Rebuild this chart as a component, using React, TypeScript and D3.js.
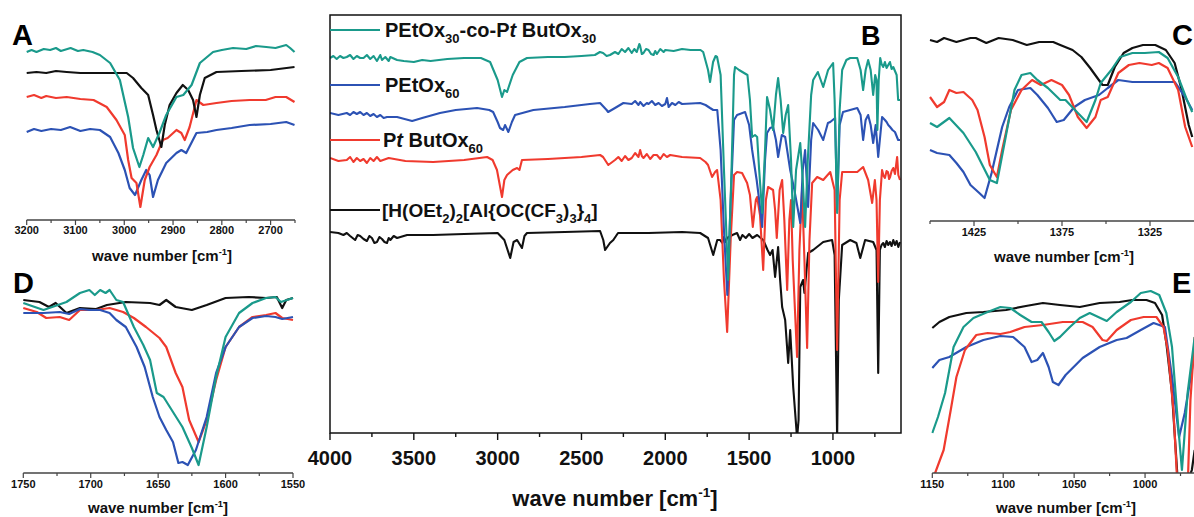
import React from "react";
import * as d3 from "d3";

type Pt = [number, number];

const FONT = "'Liberation Sans', Arial, Helvetica, sans-serif";
const TEAL = "#1a9a8b";
const BLUE = "#2c52b4";
const RED = "#f03a2e";
const BLACK = "#111111";

// ---------- Panel B (full spectra, 4000-600 cm-1) ----------
const bTicksMajor = [4000, 3500, 3000, 2500, 2000, 1500, 1000];
const bTicksMinor = [3750, 3250, 2750, 2250, 1750, 1250, 750];

const bTeal: Pt[] = [
  [4000, 375], [3980, 377], [3960, 374], [3940, 377], [3920, 375], [3900, 376], [3880, 378], [3860, 374], [3840, 377], [3820, 375], [3800, 375], [3780, 378], [3760, 374], [3740, 377], [3720, 372], [3700, 378], [3690, 373], [3670, 376], [3650, 372], [3640, 376], [3600, 373], [3560, 372], [3500, 371], [3450, 373], [3400, 372], [3300, 374], [3200, 375], [3100, 375], [3045, 371], [3000, 353], [2974, 336], [2960, 343], [2944, 341], [2910, 358], [2870, 371], [2825, 375], [2700, 376], [2600, 376], [2500, 377], [2420, 378], [2390, 381], [2371, 380], [2350, 377], [2330, 378], [2300, 381], [2280, 379], [2260, 384], [2240, 381], [2220, 385], [2200, 380], [2185, 384], [2170, 381], [2155, 389], [2150, 387], [2140, 379], [2130, 380], [2115, 384], [2100, 383], [2085, 379], [2070, 378], [2060, 382], [2050, 379], [2030, 384], [2010, 381], [2000, 383], [1950, 382], [1900, 384], [1850, 383], [1790, 383], [1774, 381], [1745, 363], [1733, 351], [1715, 371], [1700, 377], [1691, 376], [1670, 358], [1650, 263], [1625, 153], [1605, 263], [1590, 358], [1584, 366], [1560, 363], [1510, 358], [1495, 333], [1482, 296], [1465, 298], [1452, 296], [1440, 263], [1422, 220], [1405, 283], [1393, 336], [1375, 323], [1357, 303], [1340, 338], [1327, 355], [1312, 333], [1297, 300], [1282, 318], [1267, 328], [1250, 273], [1237, 206], [1220, 263], [1195, 290], [1180, 253], [1166, 206], [1150, 273], [1130, 338], [1118, 353], [1090, 361], [1058, 346], [1029, 363], [999, 370], [990, 333], [975, 220], [960, 323], [945, 363], [920, 373], [897, 375], [855, 375], [835, 363], [820, 343], [805, 363], [790, 373], [775, 363], [760, 338], [748, 358], [740, 353], [735, 303], [727, 353], [718, 375], [710, 369], [700, 366], [690, 371], [680, 365], [670, 368], [660, 371], [650, 364], [640, 366], [630, 362], [620, 358], [611, 333], [600, 333],
];

const bBlue: Pt[] = [
  [4000, 320], [3950, 318], [3900, 320], [3880, 318], [3860, 321], [3840, 319], [3820, 321], [3800, 318], [3780, 320], [3760, 317], [3740, 319], [3720, 316], [3700, 318], [3680, 315], [3660, 316], [3600, 316], [3510, 312], [3450, 315], [3344, 320], [3250, 323], [3123, 325], [3050, 323], [3027, 321], [3000, 311], [2986, 305], [2967, 303], [2956, 308], [2936, 301], [2915, 311], [2896, 318], [2787, 323], [2600, 326], [2450, 329], [2389, 330], [2350, 323], [2341, 321], [2300, 325], [2250, 330], [2200, 329], [2180, 332], [2160, 328], [2150, 331], [2130, 327], [2110, 330], [2100, 329], [2080, 332], [2060, 328], [2040, 330], [2020, 327], [2000, 329], [1990, 335], [1980, 326], [1960, 330], [1940, 328], [1920, 331], [1900, 329], [1792, 330], [1760, 328], [1733, 325], [1714, 323], [1690, 323], [1670, 283], [1650, 203], [1630, 138], [1610, 233], [1590, 313], [1572, 318], [1524, 321], [1500, 308], [1482, 283], [1455, 253], [1440, 233], [1422, 206], [1405, 273], [1393, 300], [1375, 305], [1357, 306], [1340, 293], [1327, 276], [1305, 298], [1285, 296], [1255, 263], [1230, 243], [1214, 228], [1195, 210], [1180, 263], [1166, 283], [1148, 226], [1130, 293], [1118, 310], [1088, 303], [1058, 293], [1030, 310], [1016, 311], [987, 315], [975, 223], [960, 308], [940, 321], [855, 325], [835, 318], [820, 293], [805, 313], [790, 318], [775, 308], [760, 290], [745, 308], [730, 276], [707, 316], [690, 313], [680, 311], [670, 308], [659, 306], [645, 303], [630, 301], [611, 293], [600, 293],
];

const bRed: Pt[] = [
  [4000, 275], [3950, 272], [3900, 273], [3880, 276], [3860, 271], [3840, 275], [3820, 272], [3800, 274], [3780, 270], [3760, 275], [3740, 272], [3720, 276], [3700, 272], [3650, 275], [3550, 272], [3385, 271], [3200, 273], [3063, 276], [3030, 273], [3004, 263], [2974, 236], [2960, 253], [2944, 258], [2910, 263], [2884, 265], [2870, 263], [2855, 273], [2700, 274], [2500, 276], [2389, 278], [2371, 276], [2340, 268], [2300, 273], [2280, 276], [2260, 272], [2240, 277], [2220, 273], [2200, 275], [2180, 280], [2160, 276], [2150, 283], [2140, 277], [2130, 275], [2110, 279], [2090, 274], [2070, 278], [2050, 278], [2030, 274], [2010, 279], [1990, 276], [1971, 278], [1900, 276], [1792, 275], [1760, 271], [1745, 268], [1721, 256], [1703, 261], [1691, 263], [1670, 233], [1650, 153], [1631, 101], [1610, 193], [1590, 258], [1572, 261], [1542, 260], [1512, 250], [1495, 238], [1478, 206], [1460, 233], [1452, 236], [1435, 218], [1416, 163], [1400, 233], [1387, 246], [1357, 243], [1345, 223], [1335, 195], [1318, 243], [1303, 253], [1290, 213], [1273, 143], [1260, 213], [1250, 233], [1240, 173], [1214, 76], [1200, 183], [1184, 243], [1170, 173], [1154, 85], [1140, 193], [1124, 250], [1094, 256], [1058, 253], [1016, 261], [990, 243], [975, 83], [960, 233], [945, 261], [897, 261], [855, 261], [820, 266], [790, 253], [766, 230], [750, 253], [740, 233], [730, 151], [720, 233], [707, 263], [698, 257], [690, 255], [680, 262], [672, 261], [665, 254], [659, 256], [650, 262], [640, 265], [630, 259], [617, 276], [610, 258], [600, 253],
];

const bBlack: Pt[] = [
  [4000, 201], [3950, 200], [3920, 198], [3900, 200], [3880, 197], [3865, 195], [3850, 193], [3835, 198], [3820, 197], [3800, 194], [3780, 192], [3765, 197], [3750, 195], [3735, 190], [3720, 191], [3705, 196], [3690, 194], [3675, 191], [3660, 190], [3650, 195], [3640, 193], [3620, 197], [3600, 195], [3540, 198], [3385, 198], [3200, 199], [3000, 200], [2960, 193], [2925, 175], [2905, 191], [2884, 193], [2855, 185], [2840, 197], [2825, 200], [2600, 201], [2389, 202], [2370, 193], [2359, 183], [2330, 190], [2310, 193], [2282, 200], [2100, 200], [1900, 201], [1792, 200], [1745, 195], [1714, 178], [1690, 193], [1673, 193], [1660, 190], [1650, 196], [1640, 191], [1631, 195], [1600, 198], [1572, 200], [1554, 193], [1540, 198], [1520, 195], [1500, 199], [1480, 195], [1452, 198], [1416, 193], [1390, 183], [1375, 178], [1360, 183], [1345, 156], [1327, 186], [1315, 153], [1303, 126], [1285, 113], [1267, 70], [1255, 103], [1237, 46], [1214, -5], [1205, 13], [1195, 146], [1178, 153], [1170, 140], [1148, 180], [1118, 183], [1058, 191], [1005, 193], [990, 178], [975, -5], [965, 133], [945, 188], [897, 193], [860, 190], [837, 175], [808, 193], [760, 191], [740, 183], [730, 60], [720, 183], [710, 188], [700, 190], [690, 186], [680, 192], [670, 188], [660, 191], [650, 187], [640, 193], [630, 188], [620, 192], [610, 186], [600, 191],
];

// ---------- Panel A (3200-2650) ----------
const aTicksMajor = [3200, 3100, 3000, 2900, 2800, 2700];
const aTicksMinor = [3150, 3050, 2950, 2850, 2750, 2650];
const aTeal: Pt[] = [[3200, 168], [3190, 170], [3180, 168], [3165, 171], [3152, 170], [3140, 172], [3130, 169], [3110, 172], [3095, 169], [3084, 170], [3065, 168], [3050, 165], [3029, 157], [3009, 140], [2992, 103], [2982, 72], [2969, 53], [2961, 65], [2951, 82], [2941, 73], [2928, 87], [2914, 105], [2893, 123], [2879, 125], [2862, 135], [2845, 157], [2818, 168], [2800, 170], [2777, 172], [2750, 171], [2730, 174], [2709, 173], [2690, 172], [2668, 175], [2660, 172], [2651, 168]];
const aBlack: Pt[] = [[3200, 147], [3180, 148], [3160, 147], [3140, 149], [3118, 148], [3090, 147], [3060, 147], [2995, 147], [2982, 142], [2965, 132], [2951, 125], [2941, 105], [2934, 90], [2924, 73], [2917, 95], [2907, 115], [2893, 127], [2880, 135], [2869, 130], [2859, 120], [2852, 103], [2845, 125], [2835, 142], [2811, 148], [2760, 149], [2700, 150], [2651, 153]];
const aRed: Pt[] = [[3200, 123], [3185, 125], [3170, 122], [3160, 124], [3140, 122], [3118, 123], [3090, 121], [3063, 120], [3036, 113], [3016, 100], [2999, 85], [2992, 60], [2985, 42], [2975, 37], [2967, 13], [2958, 40], [2948, 53], [2934, 65], [2921, 80], [2911, 82], [2893, 90], [2883, 87], [2876, 80], [2866, 93], [2852, 120], [2838, 115], [2811, 117], [2780, 119], [2743, 120], [2710, 120], [2690, 123], [2668, 123], [2651, 118]];
const aBlue: Pt[] = [[3200, 88], [3185, 91], [3170, 89], [3150, 91], [3130, 90], [3111, 93], [3090, 89], [3070, 91], [3050, 90], [3029, 83], [3012, 67], [2999, 50], [2989, 32], [2978, 25], [2965, 40], [2955, 50], [2948, 45], [2941, 23], [2931, 40], [2914, 57], [2893, 67], [2883, 70], [2873, 67], [2852, 87], [2830, 88], [2811, 90], [2780, 92], [2743, 95], [2700, 96], [2668, 98], [2651, 95]];

// ---------- Panel D (1750-1550) ----------
const dTicksMajor = [1750, 1700, 1650, 1600, 1550];
const dTicksMinor = [1725, 1675, 1625, 1575];
const dTeal: Pt[] = [[1750, 170], [1735, 163], [1718, 171], [1708, 180], [1701, 183], [1697, 178], [1693, 183], [1689, 180], [1686, 183], [1681, 173], [1676, 171], [1668, 146], [1661, 128], [1656, 113], [1651, 80], [1646, 76], [1639, 61], [1632, 46], [1625, 25], [1620, 8], [1614, 46], [1607, 96], [1600, 136], [1590, 160], [1580, 170], [1570, 175], [1563, 176], [1559, 171], [1550, 175]];
const dBlack: Pt[] = [[1750, 173], [1738, 171], [1731, 166], [1726, 170], [1718, 160], [1708, 165], [1696, 164], [1688, 168], [1674, 171], [1656, 170], [1649, 168], [1644, 173], [1637, 166], [1625, 163], [1614, 168], [1600, 175], [1583, 176], [1570, 175], [1562, 176], [1558, 165], [1555, 173], [1550, 175]];
const dRed: Pt[] = [[1750, 165], [1740, 161], [1733, 155], [1723, 156], [1716, 153], [1708, 163], [1696, 163], [1686, 165], [1676, 161], [1668, 155], [1659, 146], [1649, 135], [1644, 126], [1637, 100], [1632, 86], [1627, 53], [1620, 31], [1614, 53], [1607, 93], [1600, 126], [1590, 146], [1580, 156], [1570, 158], [1563, 160], [1558, 155], [1550, 153]];
const dBlue: Pt[] = [[1750, 160], [1735, 160], [1723, 161], [1716, 159], [1708, 164], [1701, 163], [1693, 163], [1686, 160], [1681, 153], [1674, 146], [1666, 126], [1660, 106], [1654, 76], [1649, 56], [1644, 43], [1639, 31], [1635, 10], [1632, 11], [1628, 8], [1622, 23], [1614, 56], [1607, 100], [1600, 126], [1590, 146], [1580, 155], [1570, 157], [1563, 156], [1558, 154], [1550, 156]];

// ---------- Panel C (1450-1300) ----------
const cTicksMajor = [1425, 1375, 1325];
const cTicksMinor = [1450, 1400, 1350];
const cBlack: Pt[] = [[1450, 181], [1446, 179], [1442, 183], [1435, 179], [1427, 183], [1424, 183], [1418, 178], [1411, 183], [1403, 181], [1395, 176], [1388, 179], [1380, 179], [1376, 176], [1369, 171], [1364, 164], [1359, 153], [1352, 136], [1349, 136], [1345, 154], [1340, 168], [1335, 173], [1329, 176], [1322, 176], [1316, 171], [1311, 158], [1307, 131], [1303, 96], [1301, 84]];
const cTeal: Pt[] = [[1450, 98], [1446, 94], [1439, 103], [1431, 88], [1424, 69], [1416, 41], [1412, 38], [1407, 84], [1402, 131], [1398, 146], [1393, 148], [1389, 141], [1383, 133], [1376, 121], [1373, 121], [1366, 108], [1361, 99], [1356, 121], [1353, 138], [1347, 151], [1342, 164], [1335, 168], [1328, 168], [1320, 169], [1315, 163], [1309, 144], [1304, 121], [1301, 109]];
const cRed: Pt[] = [[1450, 124], [1446, 114], [1442, 119], [1439, 131], [1435, 128], [1431, 129], [1426, 121], [1423, 111], [1419, 84], [1416, 56], [1412, 44], [1409, 71], [1404, 111], [1398, 131], [1392, 141], [1387, 136], [1381, 141], [1375, 136], [1371, 126], [1366, 104], [1361, 93], [1356, 104], [1353, 121], [1349, 124], [1343, 148], [1337, 156], [1331, 158], [1324, 156], [1320, 158], [1315, 153], [1309, 131], [1305, 94], [1301, 74]];
const cBlue: Pt[] = [[1450, 71], [1446, 68], [1439, 66], [1435, 58], [1431, 49], [1427, 36], [1422, 28], [1419, 23], [1415, 48], [1409, 94], [1405, 114], [1400, 131], [1393, 133], [1389, 126], [1383, 113], [1378, 99], [1374, 101], [1368, 114], [1362, 121], [1354, 126], [1349, 133], [1343, 141], [1335, 139], [1316, 139], [1311, 139], [1305, 124], [1301, 111]];

// ---------- Panel E (1150-965) ----------
const eTicksMajor = [1150, 1100, 1050, 1000];
const eTicksMinor = [1125, 1075, 1025, 975];
const eBlack: Pt[] = [[1150, 145], [1145, 151], [1138, 156], [1126, 160], [1114, 161], [1098, 163], [1084, 167], [1072, 170], [1060, 168], [1046, 166], [1032, 170], [1018, 171], [1009, 173], [999, 173], [993, 170], [988, 158], [985, 130], [981, 80], [977, -7], [972, -17], [967, 3], [965, 23]];
const eTeal: Pt[] = [[1150, 40], [1146, 56], [1141, 80], [1135, 126], [1128, 146], [1121, 155], [1111, 161], [1102, 166], [1095, 165], [1088, 158], [1080, 151], [1073, 151], [1068, 141], [1064, 132], [1060, 136], [1053, 146], [1046, 155], [1039, 160], [1033, 156], [1027, 152], [1020, 161], [1010, 171], [1003, 180], [996, 182], [990, 178], [985, 160], [981, 126], [977, 53], [974, 3], [970, 80], [965, 136]];
const eRed: Pt[] = [[1150, -12], [1148, 0], [1142, 23], [1137, 63], [1133, 96], [1127, 123], [1119, 138], [1111, 140], [1102, 139], [1095, 141], [1085, 146], [1072, 148], [1058, 151], [1044, 151], [1037, 146], [1030, 133], [1027, 132], [1020, 143], [1010, 153], [1001, 156], [992, 156], [987, 146], [984, 123], [980, 63], [977, -17], [970, -17], [968, 73], [965, 136]];
const eBlue: Pt[] = [[1150, 105], [1145, 113], [1138, 116], [1126, 126], [1114, 133], [1102, 137], [1093, 136], [1085, 126], [1080, 111], [1076, 113], [1072, 120], [1068, 106], [1065, 91], [1061, 88], [1056, 98], [1044, 115], [1032, 126], [1020, 133], [1013, 135], [1003, 143], [994, 150], [986, 146], [981, 96], [976, 36], [972, 60], [965, 120]];

type Series = { data: Pt[]; color: string };

function AxisTitle({ x, y, size }: { x: number; y: number; size: number }) {
  const up = size * 0.42;
  return (
    <text x={x} y={y} textAnchor="middle" fontFamily={FONT} fontWeight="bold" fontSize={size} fill="#111">
      wave number [cm
      <tspan dy={-up} fontSize={size * 0.62}>-1</tspan>
      <tspan dy={up}>]</tspan>
    </text>
  );
}

type InsetProps = {
  id: string;
  xDomain: [number, number];
  x0: number;
  x1: number;
  axisY: number;
  top: number;
  majors: number[];
  minors: number[];
  series: Series[];
  letter: string;
  letterX: number;
  letterY: number;
  titleX: number;
  titleY: number;
  labelY: number;
};

function Inset(p: InsetProps) {
  const x = d3.scaleLinear().domain(p.xDomain).range([p.x0, p.x1]);
  const y = d3.scaleLinear().domain([0, 205]).range([p.axisY, p.axisY - 205]);
  const line = d3
    .line<Pt>()
    .x((d) => x(d[0]))
    .y((d) => y(d[1]))
    .curve(d3.curveLinear);
  return (
    <g>
      <defs>
        <clipPath id={p.id}>
          <rect x={p.x0 - 1} y={p.top} width={p.x1 - p.x0 + 2} height={p.axisY - p.top} />
        </clipPath>
      </defs>
      <g clipPath={`url(#${p.id})`}>
        {p.series.map((s, i) => (
          <path key={i} d={line(s.data) || ""} fill="none" stroke={s.color} strokeWidth={2.2} strokeLinejoin="round" />
        ))}
      </g>
      <line x1={p.x0} x2={p.x1} y1={p.axisY} y2={p.axisY} stroke="#444" strokeWidth={1.3} />
      {p.majors.map((t) => (
        <line key={"M" + t} x1={x(t)} x2={x(t)} y1={p.axisY} y2={p.axisY + 5} stroke="#444" strokeWidth={1.2} />
      ))}
      {p.minors.map((t) => (
        <line key={"m" + t} x1={x(t)} x2={x(t)} y1={p.axisY} y2={p.axisY + 3} stroke="#444" strokeWidth={1.2} />
      ))}
      {p.majors.map((t) => (
        <text key={"L" + t} x={x(t)} y={p.labelY} textAnchor="middle" fontFamily={FONT} fontWeight="bold" fontSize={11} fill="#111">
          {t}
        </text>
      ))}
      <AxisTitle x={p.titleX} y={p.titleY} size={15} />
      <text x={p.letterX} y={p.letterY} fontFamily={FONT} fontWeight="bold" fontSize={29} fill="#000">
        {p.letter}
      </text>
    </g>
  );
}

function PanelB() {
  const left = 330, right = 901, top = 15, bottom = 433;
  const x = d3.scaleLinear().domain([4000, 600]).range([left, right - 1]);
  const y = d3.scaleLinear().domain([0, 418]).range([bottom, top]);
  const line = d3
    .line<Pt>()
    .x((d) => x(d[0]))
    .y((d) => y(d[1]));
  const series: Series[] = [
    { data: bBlack, color: BLACK },
    { data: bRed, color: RED },
    { data: bBlue, color: BLUE },
    { data: bTeal, color: TEAL },
  ];
  const legendY = [30, 85, 140, 210];
  const legendColors = [TEAL, BLUE, RED, BLACK];
  const fs = 20;
  const sub = 13;
  const sd = 6;
  return (
    <g>
      <defs>
        <clipPath id="clipB">
          <rect x={left} y={top} width={right - left} height={bottom - top} />
        </clipPath>
      </defs>
      <g clipPath="url(#clipB)">
        {series.map((s, i) => (
          <path key={i} d={line(s.data) || ""} fill="none" stroke={s.color} strokeWidth={2.1} strokeLinejoin="round" />
        ))}
      </g>
      <rect x={left} y={top} width={right - left} height={bottom - top} fill="none" stroke="#111" strokeWidth={1.5} />
      {bTicksMajor.map((t) => (
        <line key={"M" + t} x1={x(t)} x2={x(t)} y1={bottom} y2={bottom + 7} stroke="#111" strokeWidth={1.4} />
      ))}
      {bTicksMinor.map((t) => (
        <line key={"m" + t} x1={x(t)} x2={x(t)} y1={bottom} y2={bottom + 4} stroke="#111" strokeWidth={1.4} />
      ))}
      {bTicksMajor.map((t) => (
        <text key={"L" + t} x={x(t)} y={465} textAnchor="middle" fontFamily={FONT} fontWeight="bold" fontSize={20} fill="#111">
          {t}
        </text>
      ))}
      <AxisTitle x={615} y={506} size={22} />
      <text x={861} y={45} fontFamily={FONT} fontWeight="bold" fontSize={27} fill="#000">B</text>
      {legendY.map((ly, i) => (
        <line key={"lg" + i} x1={left} x2={380} y1={ly} y2={ly} stroke={legendColors[i]} strokeWidth={2} />
      ))}
      <g fontFamily={FONT} fontWeight="bold" fill="#111" fontSize={fs}>
        <text x={385} y={37}>
          PEtOx<tspan dy={sd} fontSize={sub}>30</tspan>
          <tspan dy={-sd}>-co-P</tspan>
          <tspan fontStyle="italic">t</tspan> ButOx<tspan dy={sd} fontSize={sub}>30</tspan>
        </text>
        <text x={385} y={92}>
          PEtOx<tspan dy={sd} fontSize={sub}>60</tspan>
        </text>
        <text x={383} y={147}>
          P<tspan fontStyle="italic">t</tspan> ButOx<tspan dy={sd} fontSize={sub}>60</tspan>
        </text>
        <text x={382} y={217} fontSize={19}>
          [H(OEt<tspan dy={sd} fontSize={sub}>2</tspan>
          <tspan dy={-sd}>)</tspan>
          <tspan dy={sd} fontSize={sub}>2</tspan>
          <tspan dy={-sd}>[Al{"{"}OC(CF</tspan>
          <tspan dy={sd} fontSize={sub}>3</tspan>
          <tspan dy={-sd}>)</tspan>
          <tspan dy={sd} fontSize={sub}>3</tspan>
          <tspan dy={-sd}>{"}"}</tspan>
          <tspan dy={sd} fontSize={sub}>4</tspan>
          <tspan dy={-sd}>]</tspan>
        </text>
      </g>
    </g>
  );
}

export default function App() {
  return (
    <svg
      width={1194}
      height={517}
      viewBox="0 0 1194 517"
      style={{ position: "absolute", left: 0, top: 0, background: "#fff" }}
    >
      <rect x={0} y={0} width={1194} height={517} fill="#fff" />
      <Inset
        id="clipA"
        xDomain={[3200, 2650]}
        x0={26.7}
        x1={295}
        axisY={220}
        top={10}
        majors={aTicksMajor}
        minors={aTicksMinor}
        series={[
          { data: aBlue, color: BLUE },
          { data: aRed, color: RED },
          { data: aBlack, color: BLACK },
          { data: aTeal, color: TEAL },
        ]}
        letter="A"
        letterX={12}
        letterY={45}
        titleX={162}
        titleY={261}
        labelY={234}
      />
      <Inset
        id="clipD"
        xDomain={[1750, 1550]}
        x0={23.3}
        x1={293}
        axisY={473}
        top={268}
        majors={dTicksMajor}
        minors={dTicksMinor}
        series={[
          { data: dBlack, color: BLACK },
          { data: dRed, color: RED },
          { data: dBlue, color: BLUE },
          { data: dTeal, color: TEAL },
        ]}
        letter="D"
        letterX={13}
        letterY={293}
        titleX={158}
        titleY={513}
        labelY={488}
      />
      <PanelB />
      <Inset
        id="clipC"
        xDomain={[1450, 1300]}
        x0={930}
        x1={1194}
        axisY={221}
        top={10}
        majors={cTicksMajor}
        minors={cTicksMinor}
        series={[
          { data: cBlack, color: BLACK },
          { data: cBlue, color: BLUE },
          { data: cRed, color: RED },
          { data: cTeal, color: TEAL },
        ]}
        letter="C"
        letterX={1172}
        letterY={45}
        titleX={1064}
        titleY={262}
        labelY={236}
      />
      <Inset
        id="clipE"
        xDomain={[1150, 965]}
        x0={932.3}
        x1={1194.7}
        axisY={473}
        top={268}
        majors={eTicksMajor}
        minors={eTicksMinor}
        series={[
          { data: eBlack, color: BLACK },
          { data: eBlue, color: BLUE },
          { data: eRed, color: RED },
          { data: eTeal, color: TEAL },
        ]}
        letter="E"
        letterX={1172}
        letterY={293}
        titleX={1066}
        titleY={513}
        labelY={488}
      />
    </svg>
  );
}
